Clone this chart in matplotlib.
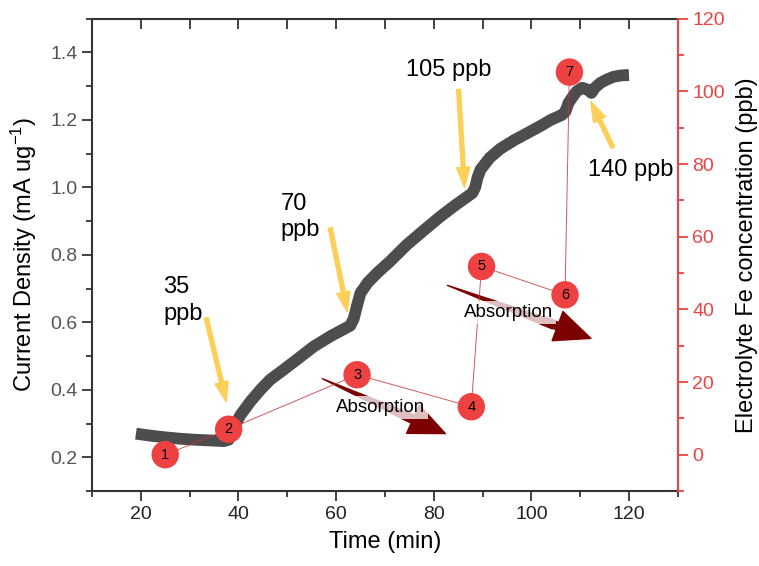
import matplotlib.pyplot as plt
from matplotlib.ticker import MultipleLocator

plt.rcParams['font.family'] = ['Liberation Sans', 'DejaVu Sans']
plt.rcParams['mathtext.fontset'] = 'custom'
plt.rcParams['mathtext.rm'] = 'Liberation Sans'
plt.rcParams['mathtext.it'] = 'Liberation Sans:italic'
plt.rcParams['mathtext.default'] = 'regular'

# current density curve (left axis)
time = [19, 22, 25, 28, 31, 34, 37, 38, 39, 40.4, 42.5, 44.5, 46.5, 49.2, 52, 55.4, 59, 62.9,
        63.6, 64.3, 65, 66.5, 68.4, 71, 74.5, 78, 81.4, 84.5, 87.9, 88.5, 89, 89.6, 91.5, 93.7,
        96.5, 99.2, 102, 104, 106.3, 107, 107.6, 108.3, 109.3, 110.4, 111.5, 112.3, 113, 114.2,
        115.5, 116.9, 118.5, 120]
current = [0.270, 0.264, 0.259, 0.255, 0.252, 0.250, 0.248, 0.252, 0.288, 0.325, 0.366, 0.400,
           0.430, 0.459, 0.490, 0.528, 0.560, 0.590, 0.610, 0.650, 0.687, 0.718, 0.746, 0.780,
           0.830, 0.873, 0.914, 0.948, 0.983, 1.000, 1.030, 1.053, 1.088, 1.115, 1.140, 1.161,
           1.183, 1.200, 1.215, 1.225, 1.250, 1.265, 1.285, 1.295, 1.290, 1.280, 1.295, 1.310,
           1.320, 1.328, 1.332, 1.333]

# electrolyte Fe concentration points (right axis)
pt_time = [25, 38, 64.3, 87.7, 89.8, 106.9, 107.8]
pt_conc = [0, 7, 22, 13.2, 51.8, 44, 105.3]
pt_labels = ['1', '2', '3', '4', '5', '6', '7']

# spike annotations: label, text pos, arrow tail, arrow head (left axis units)
spike_labels = ['35\nppb', '70\nppb', '105 ppb', '140 ppb']
spike_text = [(24.6, 0.665), (48.6, 0.912), (83.1, 1.348), (120.4, 1.052)]
spike_tail = [(33.4, 0.613), (58.8, 0.880), (85.1, 1.290), (116.7, 1.118)]
spike_head = [(37.5, 0.364), (62.3, 0.631), (86.3, 1.000), (112.2, 1.254)]

# absorption arrows (right axis units)
abs_tail = [(57.2, 20.9), (82.8, 46.6)]
abs_head = [(82.4, 5.8), (112.2, 32.0)]
abs_text = [(69.1, 12.9), (95.3, 39.1)]

red = '#ee4242'
yellow = '#fcd058'
darkred = '#7d0000'

fig = plt.figure(figsize=(7.59, 5.66), dpi=100)
ax = fig.add_axes([0.1212, 0.1325, 0.7718, 0.8345])
ax.plot(time, current, color='#4d4d4d', lw=8.5, solid_capstyle='butt', zorder=2)
ax.set_xlim(10, 130)
ax.set_ylim(0.1, 1.5)
ax.xaxis.set_major_locator(MultipleLocator(20))
ax.xaxis.set_minor_locator(MultipleLocator(10))
ax.yaxis.set_major_locator(MultipleLocator(0.2))
ax.yaxis.set_minor_locator(MultipleLocator(0.1))
ax.tick_params(axis='both', which='both', direction='out', width=1.3, colors='#333333')
ax.tick_params(axis='both', which='major', length=7, labelsize=14)
ax.tick_params(axis='both', which='minor', length=4)
ax.tick_params(axis='y', labelcolor='#555555')
ax.tick_params(axis='x', labelcolor='#222222')
for s in ['left', 'bottom', 'top']:
    ax.spines[s].set_linewidth(1.5)
    ax.spines[s].set_color('#333333')
ax.set_xlabel('Time (min)', fontsize=17, labelpad=6)
ax.set_ylabel('Current Density (mA ug$^{-1}$)', fontsize=17, labelpad=8)

# top spine ticks pointing inward
top = ax.secondary_xaxis('top')
top.set_xticks(range(20, 130, 10))
top.tick_params(direction='in', length=7, width=1.3, colors='#333333', labeltop=False)
top.spines['top'].set_visible(False)

for lab, tp, tail, head in zip(spike_labels, spike_text, spike_tail, spike_head):
    ax.annotate('', xy=head, xytext=tail,
                arrowprops=dict(arrowstyle='simple,head_length=0.9,head_width=0.6,tail_width=0.18',
                                color=yellow, mutation_scale=16, shrinkA=0, shrinkB=0))
    ha = 'center' if lab[0] == '1' else 'left'
    ax.text(tp[0], tp[1], lab, fontsize=17, ha=ha, va='center', linespacing=1.25)

ax2 = ax.twinx()
ax2.set_ylim(-10, 120)
ax2.yaxis.set_major_locator(MultipleLocator(20))
ax2.yaxis.set_minor_locator(MultipleLocator(10))
ax2.tick_params(axis='y', which='both', direction='out', width=1.3, colors=red)
ax2.tick_params(axis='y', which='major', length=7, labelsize=14)
ax2.tick_params(axis='y', which='minor', length=4)
ax2.spines['right'].set_color(red)
ax2.spines['right'].set_linewidth(1.5)
ax2.spines['left'].set_visible(False)
ax2.spines['top'].set_visible(False)
ax2.spines['bottom'].set_visible(False)
ax2.set_ylabel('Electrolyte Fe concentration (ppb)', fontsize=17, labelpad=8)

ax2.plot(pt_time, pt_conc, color='#c83030', lw=0.7, alpha=0.8, zorder=3)
ax2.scatter(pt_time, pt_conc, s=390, color=red, edgecolors='none', zorder=4)
for x, y, lab in zip(pt_time, pt_conc, pt_labels):
    ax2.text(x, y, lab, fontsize=10.5, ha='center', va='center', zorder=5)

# absorption arrows: tapered tail (wedge, wide end at the neck) plus a head
for tail, head, tpos in zip(abs_tail, abs_head, abs_text):
    neck = (tail[0] + 0.74 * (head[0] - tail[0]), tail[1] + 0.74 * (head[1] - tail[1]))
    base = (tail[0] + 0.66 * (head[0] - tail[0]), tail[1] + 0.66 * (head[1] - tail[1]))
    ax2.annotate('', xy=tail, xytext=neck,
                 arrowprops=dict(arrowstyle='wedge,tail_width=0.4,shrink_factor=0.5',
                                 color=darkred, mutation_scale=16, shrinkA=0, shrinkB=0), zorder=2)
    ax2.annotate('', xy=head, xytext=base,
                 arrowprops=dict(arrowstyle='simple,head_length=1.6,head_width=1.4,tail_width=0.35',
                                 color=darkred, mutation_scale=16, shrinkA=0, shrinkB=0), zorder=2)
    ax2.text(tpos[0], tpos[1], 'Absorption', fontsize=13.5, ha='center', va='center', zorder=3,
             bbox=dict(boxstyle='square,pad=0.15', fc='white', ec='none', alpha=0.75))

fig.savefig('out.png', dpi=100)
